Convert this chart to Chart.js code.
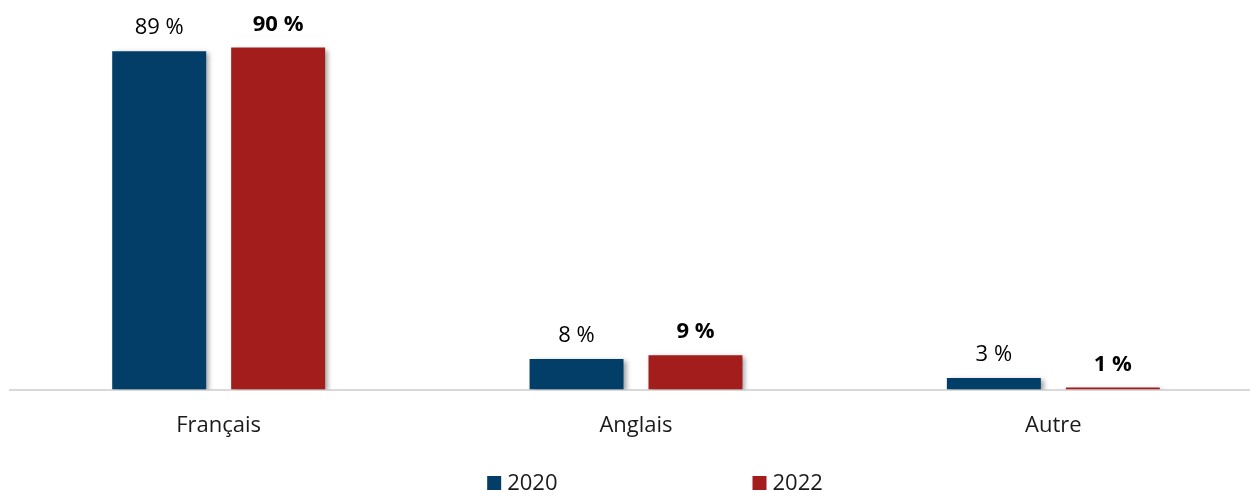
<!DOCTYPE html>
<html lang="fr">
<head>
<meta charset="utf-8">
<title>Langue</title>
<script src="https://cdn.jsdelivr.net/npm/chart.js@4.4.1/dist/chart.umd.min.js"></script>
<style>
    html, body {
        margin: 0;
        padding: 0;
        background: #ffffff;
        overflow: hidden;
    }
    .chart-wrap {
        position: relative;
        width: 1262px; /* chart area runs slightly past the right edge, as in the original */
        height: 493px;
    }
</style>
</head>
<body>
<div class="chart-wrap">
    <canvas id="langChart"></canvas>
</div>
<script>
// Data
const categories = ["Français", "Anglais", "Autre"];
const seriesNames = ["2020", "2022"];
const values2020 = [89, 8, 3];
const values2022 = [90, 9, 0.5]; // bar is drawn as a hairline, labelled "1 %"

const FONT = "'Open Sans', 'Noto Sans', Arial, sans-serif";
const TEXT_COLOR = "#1a1a1a";

/**
 * Builds the two datasets with their own look.
 */
function buildDatasets() {
    const looks = [
        { color: "#023e68", labelWeight: "normal" },
        { color: "#a31d1d", labelWeight: "bold" },
    ];
    return [values2020, values2022].map((vals, i) => ({
        label: seriesNames[i],
        data: vals,
        backgroundColor: looks[i].color,
        borderWidth: 0,
        categoryPercentage: 0.57,
        barPercentage: 0.79,
        labelWeight: looks[i].labelWeight,
    }));
}

// Soft drop shadow behind the bars
const barShadow = {
    id: "barShadow",
    beforeDatasetsDraw(chart) {
        const ctx = chart.ctx;
        ctx.save();
        ctx.shadowColor = "rgba(0, 0, 0, 0.38)";
        ctx.shadowBlur = 5;
        ctx.shadowOffsetX = 3;
        ctx.shadowOffsetY = 2;
    },
    afterDatasetsDraw(chart) {
        chart.ctx.restore();
    },
};

// Value labels above each bar
const valueLabels = {
    id: "valueLabels",
    afterDatasetsDraw(chart) {
        const ctx = chart.ctx;
        chart.data.datasets.forEach((ds, di) => {
            const meta = chart.getDatasetMeta(di);
            meta.data.forEach((bar, i) => {
                ctx.save();
                ctx.font = `${ds.labelWeight} 22px ${FONT}`;
                ctx.fillStyle = "#000000";
                ctx.textAlign = "center";
                ctx.textBaseline = "alphabetic";
                ctx.fillText(Math.round(ds.data[i]) + " %", bar.x, bar.y - 17);
                ctx.restore();
            });
        });
    },
};

// Widely spaced legend under the axis
const spreadLegend = {
    id: "spreadLegend",
    afterDraw(chart) {
        const ctx = chart.ctx;
        const area = chart.chartArea;
        const box = 14;
        const gapText = 6;
        const gapItems = 195;
        const y = 483;
        ctx.save();
        ctx.font = `normal 22px ${FONT}`;
        const items = chart.data.datasets.map((ds) => ({
            text: ds.label,
            color: ds.backgroundColor,
            width: box + gapText + ctx.measureText(ds.label).width,
        }));
        const total = items.reduce((s, it) => s + it.width, 0) + gapItems * (items.length - 1);
        let x = (area.left + area.right) / 2 + 19 - total / 2;
        items.forEach((it) => {
            ctx.fillStyle = it.color;
            ctx.fillRect(x, y - box / 2, box, box);
            ctx.fillStyle = TEXT_COLOR;
            ctx.textAlign = "left";
            ctx.textBaseline = "middle";
            ctx.fillText(it.text, x + box + gapText, y + 1);
            x += it.width + gapItems;
        });
        ctx.restore();
    },
};

function initChart() {
    const canvas = document.getElementById("langChart");
    new Chart(canvas, {
        type: "bar",
        data: {
            labels: categories,
            datasets: buildDatasets(),
        },
        options: {
            responsive: true,
            maintainAspectRatio: false,
            animation: false,
            layout: {
                padding: { top: 9.5, left: 10, right: 0, bottom: 0 },
            },
            plugins: {
                legend: { display: false },
                tooltip: { enabled: false },
            },
            scales: {
                x: {
                    grid: { display: false, drawTicks: false },
                    border: { color: "#d9d9d9", width: 2 },
                    ticks: {
                        padding: 23,
                        color: TEXT_COLOR,
                        font: { family: FONT, size: 22 },
                    },
                    afterFit(scale) {
                        scale.height = 103.5;
                    },
                },
                y: {
                    display: false,
                    min: 0,
                    max: 100,
                },
            },
        },
        plugins: [barShadow, valueLabels, spreadLegend],
    });
}

initChart();
</script>
</body>
</html>
